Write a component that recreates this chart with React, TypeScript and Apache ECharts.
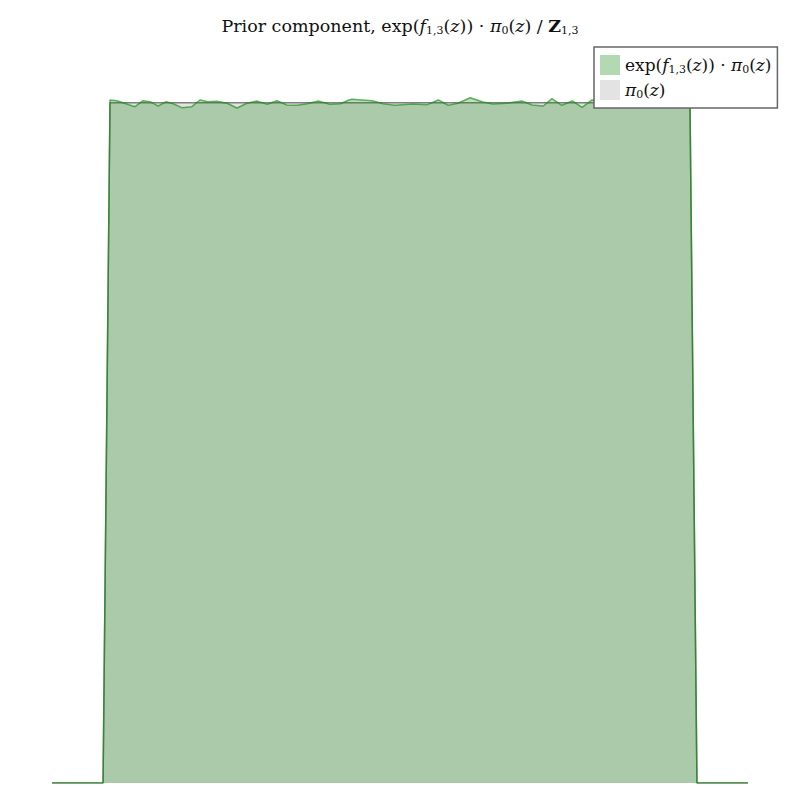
import React, { useEffect, useRef } from "react";
import * as echarts from "echarts";

// Prior density pi_0(z): uniform on [0, 1]
const priorZ = [-0.1, -0.012, 0, 1, 1.012, 1.1];
const priorV = [0, 0, 1, 1, 0, 0];

// exp(f_{1,3}(z)) * pi_0(z) / Z_{1,3}
const postZ = [
  -0.1, -0.012, 0.0, 0.012, 0.043, 0.057, 0.069, 0.083, 0.097, 0.109, 0.124, 0.141,
  0.155, 0.169, 0.184, 0.202, 0.219, 0.236, 0.253, 0.271, 0.288, 0.305, 0.322,
  0.34, 0.359, 0.379, 0.397, 0.412, 0.417, 0.452, 0.471, 0.491, 0.522, 0.547,
  0.566, 0.583, 0.6, 0.621, 0.643, 0.66, 0.684, 0.71, 0.728, 0.747, 0.762,
  0.779, 0.797, 0.814, 0.831, 0.86, 0.9, 0.95, 1.0, 1.012, 1.1,
];
const postV = [
  0, 0, 1.004, 1.0029, 0.9941, 1.0029, 1.0015, 0.9951, 1.0015, 0.9985, 0.9927, 0.9941,
  1.004, 1.0015, 1.0021, 0.9991, 0.9922, 0.9991, 1.0025, 0.9976, 1.0029, 0.9966, 0.9962,
  0.9985, 1.0025, 0.9976, 0.9985, 1.004, 1.005, 1.0029, 0.9985, 0.9962, 0.9981, 0.9971,
  1.004, 0.9962, 0.9991, 1.0073, 1.001, 0.9981, 0.9991, 1.0025, 0.9966, 0.9951, 1.0059,
  0.9962, 1.0025, 0.9932, 1.004, 1.001, 0.998, 1.002, 1.0, 0, 0,
];

const seriesNames = ["post", "prior"];

const SERIF = "'DejaVu Serif', 'Liberation Serif', serif";

const rich = (size: number) => {
  const base = { fontFamily: SERIF, fontSize: size, color: "#111", lineHeight: size + 5, fontWeight: "normal" };
  return {
    n: { ...base },
    i: { ...base, fontStyle: "italic" },
    b: { ...base, fontWeight: "bold" },
    s: {
      ...base,
      fontSize: Math.round(size * 0.62),
      padding: [Math.round(size * 0.45), 0, 0, 0],
    },
  };
};

export default function App() {
  const ref = useRef<HTMLDivElement>(null);
  useEffect(() => {
    if (!ref.current) return;
    const chart = echarts.init(ref.current, undefined, { renderer: "svg" });
    const priorData = priorZ.map((z, k) => [z, priorV[k]]);
    const postData = postZ.map((z, k) => [z, postV[k]]);
    chart.setOption({
      animation: false,
      backgroundColor: "#fff",
      title: {
        left: "center",
        top: 10,
        text:
          "{n|Prior component, exp(}{i|f}{s|1,3}{n|(}{i|z}{n|)) · }{i|π}{s|0}{n|(}{i|z}{n|) / }{b|Z}{s|1,3}",
        textStyle: { fontWeight: "normal", rich: rich(17.5) },
      },
      legend: {
        left: 594,
        top: 47,
        orient: "vertical",
        backgroundColor: "#fff",
        borderColor: "#666",
        borderWidth: 1.5,
        borderRadius: 0,
        padding: [8, 6, 8, 6],
        itemGap: 5,
        itemWidth: 20,
        itemHeight: 20,
        data: [
          { name: "post", icon: "rect", itemStyle: { color: "rgba(0,128,0,0.3)", borderWidth: 0 } },
          { name: "prior", icon: "rect", itemStyle: { color: "#e3e3e3", borderWidth: 0 } },
        ],
        formatter: (name: string) =>
          name === "post"
            ? "{n|exp(}{i|f}{s|1,3}{n|(}{i|z}{n|)) · }{i|π}{s|0}{n|(}{i|z}{n|)}"
            : "{i|π}{s|0}{n|(}{i|z}{n|)}",
        textStyle: { rich: rich(17) },
      },
      grid: { left: 52, right: 52, top: 49, bottom: 17, containLabel: false },
      xAxis: { type: "value", min: -0.1, max: 1.1, show: false },
      yAxis: { type: "value", min: 0, max: 1.0789, show: false },
      series: [
        {
          name: seriesNames[1],
          type: "line",
          data: priorData,
          showSymbol: false,
          lineStyle: { color: "#808080", width: 1.5 },
          itemStyle: { color: "#808080" },
          areaStyle: { color: "#e3e3e3", opacity: 1 },
          z: 1,
        },
        {
          name: seriesNames[0],
          type: "line",
          data: postData,
          showSymbol: false,
          lineStyle: { color: "rgba(20,140,20,0.65)", width: 1.5 },
          itemStyle: { color: "rgba(20,140,20,0.65)" },
          areaStyle: { color: "rgba(0,128,0,0.25)", opacity: 1 },
          z: 2,
        },
      ],
    });
    return () => chart.dispose();
  }, []);
  return <div ref={ref} style={{ width: 800, height: 800, margin: -8 }} />;
}
